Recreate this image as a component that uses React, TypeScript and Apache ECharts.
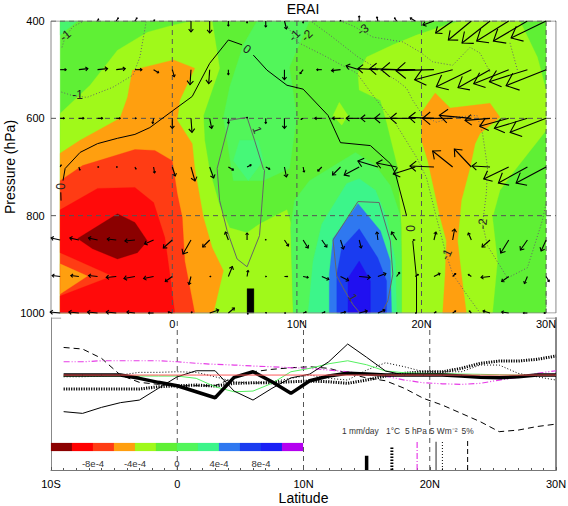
import React, { useEffect, useRef } from "react";
import * as echarts from "echarts";

type Pt = number[];

// ---- filled bands of the vertical section (latitude, pressure) ----
const yellowLeftBand: Pt[] = [[-9,590],[-6.6,532],[-4.4,460],[-2,423],[0.1,408],[1.6,400],[3.2,400],[3.8,497],[2.5,594],[2.6,645],[3,707],[3.8,779],[4.6,825],[6,835],[7,817],[9.2,788],[9.5,815],[9.7,1000],[-9,1000]];
const yellowRightBand: Pt[] = [[14.9,507],[15.6,474],[17.7,449],[19.6,429],[22,408],[23.1,400],[27.9,400],[29.3,474],[30,542],[30,625],[27.3,713],[26.3,748],[25.7,804],[26.1,893],[25.7,1000],[18.4,1000],[18.4,825],[18.1,701],[17.7,660],[17.2,608],[16.7,563],[15,542]];
const yellowDiamondBand: Pt[] = [[13.4,567],[14.1,594],[13.6,614],[12.9,594]];
const cornerBand: Pt[] = [[-9,400],[-7.6,400],[-9,429]];
const green2UpperBand: Pt[] = [[6.8,400],[5.7,449],[4.6,536],[4.1,598],[4.9,728],[6.1,728],[7.3,728],[9.4,703],[10,598],[9.4,495],[11,400]];
const green3UpperBand: Pt[] = [[4.9,687],[6.1,728],[7.3,687],[6.9,645],[5.4,645]];
const green2LowerBand: Pt[] = [[9.7,1000],[9.5,825],[9.8,769],[11,728],[13,697],[14.7,670],[16.3,697],[17.5,738],[18.3,800],[18.4,893],[18.4,1000]];
const springBand: Pt[] = [[10.9,1000],[11.3,893],[12,817],[14,734],[15,724],[16.3,748],[17.2,804],[17.9,893],[18,1000]];
const blue1Band: Pt[] = [[12.6,1000],[12.6,920],[12.9,847],[14.9,775],[16.7,831],[17.5,893],[17.6,1000]];
const blue2Band: Pt[] = [[13.2,1000],[13.2,920],[13.6,866],[15,827],[16.5,887],[17.2,934],[17.2,1000]];
const blue3Band: Pt[] = [[14.1,1000],[14.1,928],[15,893],[15.9,934],[15.9,1000]];
const orangeLeftBand: Pt[] = [[-9,672],[-7.4,645],[-4.2,600],[-3.6,557],[-3.2,501],[0.1,480],[1.8,497],[0.6,563],[0.4,604],[1.6,652],[1.8,703],[2.5,804],[3.2,866],[4.1,913],[3.3,1000],[-9,1000]];
const orangeRedBand: Pt[] = [[-9,728],[-7.2,697],[-3,664],[-1.4,666],[0,687],[0.4,755],[0.8,804],[1,893],[1.8,1000],[-9,1000]];
const redBand: Pt[] = [[-9,788],[-6,744],[-3,742],[-1.5,773],[-0.6,845],[-0.2,920],[0.2,1000],[-9,1000],[-9,965],[-4.8,924],[-9,876]];
const orangeWedgeBand: Pt[] = [[-9,899],[-6.8,924],[-9,961]];
const darkRedBand: Pt[] = [[-7.6,847],[-4.4,796],[-3,814],[-2,852],[-2.8,876],[-4.4,889],[-6.4,868]];
const orangeRightBand: Pt[] = [[20,588],[21.1,548],[22.3,579],[25.5,569],[26.3,598],[24.7,631],[24.3,652],[23.9,701],[23.2,769],[22.9,852],[23.2,920],[23.6,1000],[21.7,1000],[21.9,920],[22,852],[21.5,804],[20.5,687],[20,645]];
const fullBand: Pt[] = [[-9,400],[30,400],[30,1000],[-9,1000]];
const scaleBarBand: Pt[] = [[6,950],[6.55,950],[6.55,1000],[6,1000]];

// ---- contour lines ----
const zeroContourA: Pt[] = [[-8.93,769],[-8.95,752]];
const zeroContourB: Pt[] = [[-8.77,728],[-8.6,703],[-7.4,670],[-6,652],[-4.4,641],[-3,633],[-1.8,619],[0.05,584],[1.6,555],[3,487],[4.5,439],[5.6,449]];
const zeroContourC: Pt[] = [[6.5,470],[7.6,501],[9.2,532],[10.5,540],[12.5,594],[13.5,650],[15.9,656],[17.5,693],[17.9,713],[18.8,800]];
const zeroContourD: Pt[] = [[19.3,852],[19.6,928],[19.6,1000]];
const plusOneA: Pt[] = [[3.6,703],[4.6,604],[6,598],[6.6,645],[7.3,703],[7.4,707],[7,841],[6,905],[5.2,889],[4.4,831],[3.8,769],[3.6,703]];
const plusOneB: Pt[] = [[15.06,1000],[14.5,983],[13.7,948],[13.2,924],[12.9,850],[14.9,771],[16.6,773],[17.5,852],[17.7,920],[17.3,975],[16.8,1000]];
const minusOneA: Pt[] = [[-7.25,402],[-8,412],[-8.6,433],[-8.9,458]];
const minusOneB: Pt[] = [[-8.9,546],[-8.05,553],[-6.85,557],[-4.76,536],[-3.15,511],[-2.6,474],[-2.1,402]];
const minusOneC: Pt[] = [[9.05,404],[9.45,419],[10,443],[12.1,470],[14.8,507],[16.4,563],[18,614],[19.6,680],[20.4,722],[21.2,804],[21.9,872],[22.5,920],[23.6,961],[24.7,1000]];
const minusTwoA: Pt[] = [[11.2,402],[12.65,429],[14.9,474],[18,522],[18.8,538],[19.3,563],[20.1,594],[21.2,608],[22.5,598],[24.45,594],[24.9,631],[25.3,701],[25.2,755],[24.9,817],[25.3,862],[26.9,928],[28.5,907],[29.7,810],[30,775]];
const minusThreeA: Pt[] = [[13.7,402],[14.5,410],[16.1,433],[18.5,443],[19.9,464],[20.9,484],[22.5,491],[23.9,454],[24.7,466],[25.5,505]];
const minusThreeB: Pt[] = [[27.1,445],[27.7,501]];
const minusEdge: Pt[] = [[30,960],[30,1000]];
const contourLabels: [number, number, string, number][] = [
  [-8.9, 740, "0", 90], [6.0, 458, "0", -35], [19.1, 826, "0", -90],
  [-7.6, 553, "-1", 0], [-8.6, 430, "-1", 40], [6.8, 624, "1", -70], [9.8, 430, "-1", 45],
  [14.5, 968, "1", -60], [22.0, 880, "-1", 65], [10.8, 430, "-2", 45], [15.3, 418, "-3", 35], [24.9, 817, "-2", 85],
];

// ---- wind arrows, one list per pressure level, every 1.5 degrees from 9S ----
const windLevels = [400, 500, 600, 700, 850, 925, 1000];
const windLatStart = -9;
const windLatStep = 1.5;
const windU400 = [0,0,1,2,2,1,0,0,0,0,0,0,2,0,0,0,0,-1,-2,-5,-11,-17,-23,-28,-32,-34,-35];
const windV400 = [0,0,2,3,3,1,0,-11,-12,-5,-2,-6,-8,-2,0,0.5,5,4,3,3,-4,-12,-19,-22,-20,-20,-17];
const windU500 = [6,9,10,9,7,5,2,-1,-1,0,0,0,0,-3,-5,-9,-13,-20,-27,-34,-38,-38,-35,-32,-35,-38,-40];
const windV500 = [0,1,1,1,0,-3,-7,-15,-14,-5,0,0,-10,-4,0,-1,4,1,1,0,-1,-10,-17,-18,-14,-12,-16];
const windU600 = [4,5,5,4,1,-1,0,1,2,0,0,0,0,-2,-7,-8,-13,-17,-22,-25,-25,-30,-32,-25,-29,-33,-36];
const windV600 = [0,0,0,0,0,-5,-10,-14,-10,-5,1,-5,-10,-1,0,0,0,0,0,0,1,0,3,-2,-8,-10,-14];
const windU700 = [1,1,1,1,1,1,3,4,4,5,4,4,2,1,-4,-8,-15,-20,-20,-22,-24,-20,-17,-18,-25,-29,-30];
const windV700 = [2,-3,0,0,-2,-6,-9,-14,-11,-3,2,-2,-10,-5,-4,-8,-8,6,4,-7,1,16,18,1,-12,-16,-16];
const windU850 = [-9,-9,-9,-9,-10,-9,-9,-8,-7,-3,0,0,4,5,5,3,2,-1,-5,-2,2,2,-3,-8,-8,-7,-5];
const windV850 = [2,2,2,1,-1,-4,-8,-14,-7,8,7,0.5,-6,-8,-7,-9,-8,8,8,0,8,11,7,-7,-13,-10,-11];
const windU925 = [-8,-8,-9,-10,-11,-10,-7,-2,1,4,1,0.5,3,5,7,8,11,8,3,3,6,3,-3,-9,-7,-3,3];
const windV925 = [1,1,1,-1,-2,-2,-5,-8,0,10,6,0,0,-1,-3,-4,-1,3,4,2,3,3,2,-1,-5,-7,-5];
const windU1000 = [-10,-10,-10,-10,-8,-5,-4,1,9,6,1,0.5,1,3,3,5,8,7,0.5,1,2,3,-2,-7,-7,-4,-2];
const windV1000 = [1,1,1,1,1,0,1,1,3,5,-1,0.5,0,1,1,1,2,3,0,0,1,2,2,2,1,0,0];

// ---- lower panel series, every 1.5 degrees from 9S ----
const thinSolid = [-2.56,-2.68,-2.26,-1.93,-1.75,-0.93,-0.12,0.3,0.3,-1.12,-1.75,-0.93,-0.2,0.07,0.93,2.17,1.24,0.28,0,0,-0.02,-0.07,-0.12,-0.16,-0.07,0,0];
const thickSolid = [0,0,0,0,-0.23,-0.51,-0.75,-1.17,-1.59,-0.16,0.23,-0.47,-1.28,-0.4,-0.07,0.12,0.07,0,0,0,0,-0.07,-0.16,-0.19,-0.12,0,0];
const greenLine = [-0.07,-0.07,-0.07,-0.07,-0.07,-0.07,-0.07,-0.23,-0.82,-1.17,-1.12,-0.58,0.23,0.47,0.79,1,0.72,0.28,0.16,0.12,0.1,0.07,0.05,0.02,0,0,0];
const redLine = [0,0,0,0,0,0,0,0,0,0,0,0,0,0,0,0,0,0,0,0,0,0,0,0,0,0,0];
const magentaLine = [0.93,0.93,1,1,1,1,0.93,0.82,0.75,0.7,0.63,0.58,0.51,0.47,0.35,0.23,0.07,-0.07,-0.35,-0.54,-0.61,-0.65,-0.58,-0.35,-0.16,0.12,0.3];
const dashedLine = [1.93,1.82,1.17,0,-0.51,-0.65,-0.75,-0.75,-0.75,-0.16,0.23,0.4,0.51,0.58,0.47,0.12,-0.2,-0.4,-0.93,-1.63,-2.1,-2.68,-3.26,-3.96,-3.85,-3.6,-3.43];
const thinDotted = [-0.12,-0.12,-0.07,0,0.19,0.19,0.23,0.19,-0.12,-0.47,-0.58,-0.47,-0.23,0,-0.23,-0.35,0.35,0.86,0.58,0.23,0.23,0.23,0.7,0.7,0.12,-0.12,-0.35];
const thickDotted = [-0.98,-0.98,-0.98,-0.98,-0.98,-0.82,-0.75,-0.7,-0.77,-0.58,-0.54,-0.54,-0.47,-0.42,-0.47,-0.58,-0.35,-0.07,0.12,0.23,0.23,0.47,0.82,0.98,0.98,1.1,1.33];
const lowerLatStart = -9;
const lowerLatStep = 1.5;

const scaleLats = [15, 17, 19, 20.5, 21, 23];
const scaleHeights = [1, 1.6, 1.98, 1.98, 1.98, 2.05];
const scaleTexts = ["1 mm/day", "1°C", "5 hPa", "5 Wm⁻²", "5%"];
const scaleTextLats = [14.5, 17.1, 18.9, 21.1, 23];
const scaleTextValue = -3.92;

// ---- colour bar (units of 1e-4) ----
const barLevels = [-12,-10,-8,-6,-4,-2,0,2,4,6,8,10,12];
const barColors = ["#8b0000","#ff0000","#ff3c14","#ff9f0f","#a0f91a","#5ff035","#52f65a","#3cf58a","#2f78f0","#1a3cf0","#1a20f5","#b400f0"];

const TOP_LEFT = -9.735;
const TOP_RIGHT = 30.79;
const latLabel = (v: number) => (v === 0 ? "0" : v < 0 ? `${-v}S` : `${v}N`);
const GUIDE = "#555";

function polySeries(pts: Pt[], color: string) {
  return {
    type: "custom", xAxisIndex: 0, yAxisIndex: 0, silent: true, z: 1,
    data: pts,
    renderItem: (params: any, api: any) => {
      if (params.dataIndex !== 0) return null as any;
      return { type: "polygon", shape: { points: pts.map((p) => api.coord(p)) }, style: { fill: color, stroke: color, lineWidth: 0.3 } };
    },
  };
}

function contour(pts: Pt[], color: string, type: any, width = 1) {
  return { type: "line", xAxisIndex: 0, yAxisIndex: 0, data: pts, showSymbol: false, symbol: "none", silent: true, z: 3,
    lineStyle: { color, type, width }, animation: false };
}

function lower(vals: number[], color: string, type: any, width: number, z = 3) {
  return { type: "line", xAxisIndex: 1, yAxisIndex: 1, showSymbol: false, symbol: "none", silent: true, z,
    data: vals.map((v, i) => [lowerLatStart + i * lowerLatStep, v]),
    lineStyle: { color, type, width } };
}

function guide(xAxisIndex: number, yAxisIndex: number, pts: Pt[]) {
  return { type: "line", xAxisIndex, yAxisIndex, data: pts, showSymbol: false, symbol: "none", silent: true, z: 2,
    lineStyle: { color: GUIDE, type: [5, 4], width: 1 } };
}

function frameLine(pts: Pt[]) {
  return { type: "line", xAxisIndex: 0, yAxisIndex: 0, data: pts, showSymbol: false, symbol: "none", silent: true, z: 2,
    lineStyle: { color: "#888", width: 1 } };
}

const BOTTOM_MIN = -6.64;
const BOTTOM_MAX = 3.99;

function buildOption(): any {
  const windU = [windU400, windU500, windU600, windU700, windU850, windU925, windU1000];
  const windV = [windV400, windV500, windV600, windV700, windV850, windV925, windV1000];
  const windData: number[][] = [];
  windLevels.forEach((p, r) => windU[r].forEach((u, i) => windData.push([windLatStart + i * windLatStep, p, u, windV[r][i]])));

  const scaleStyles: any[] = [
    ["#000", "solid", 3.5], ["#000", [1.5, 1.5], 3], ["#e63ce6", [6, 2, 1, 2], 1.2],
    ["#666", "solid", 1.4], ["#000", [1, 2], 1], ["#000", [5, 3], 1],
  ];

  const series: any[] = [
    polySeries(fullBand, "#5ff035"),
    polySeries(cornerBand, "#48f56e"),
    polySeries(green2UpperBand, "#52f65a"),
    polySeries(green3UpperBand, "#46f878"),
    polySeries(yellowLeftBand, "#a0f91a"),
    polySeries(yellowRightBand, "#a0f91a"),
    polySeries(yellowDiamondBand, "#a0f91a"),
    polySeries(green2LowerBand, "#52f65a"),
    polySeries(springBand, "#3cf58a"),
    polySeries(blue1Band, "#2f78f0"),
    polySeries(blue2Band, "#1a3cf0"),
    polySeries(blue3Band, "#2010f0"),
    polySeries(orangeLeftBand, "#ff9f0f"),
    polySeries(orangeRightBand, "#ff9f0f"),
    polySeries(orangeRedBand, "#ff3c14"),
    polySeries(redBand, "#ff0a0a"),
    polySeries(orangeWedgeBand, "#ff9f0f"),
    polySeries(darkRedBand, "#8b0000"),
    polySeries(scaleBarBand, "#000"),
    frameLine([[TOP_LEFT, 400], [TOP_LEFT, 1000]]),
    frameLine([[TOP_RIGHT, 400], [TOP_RIGHT, 1000]]),
    frameLine([[TOP_LEFT, 400], [TOP_RIGHT, 400]]),
    frameLine([[TOP_LEFT, 1000], [TOP_RIGHT, 1000]]),
    ...[0, 10, 20, 30].map((lat) => guide(0, 0, [[lat, 400], [lat, 1000]])),
    ...[400, 600, 800].map((p) => guide(0, 0, [[TOP_LEFT, p], [TOP_RIGHT, p]])),
    contour(zeroContourA, "#000", "solid"), contour(zeroContourB, "#000", "solid"),
    contour(zeroContourC, "#000", "solid"), contour(zeroContourD, "#000", "solid"),
    contour(plusOneA, "#666", "solid"), contour(plusOneB, "#666", "solid"),
    contour(minusOneA, "#666", [1, 2]), contour(minusOneB, "#666", [1, 2]), contour(minusOneC, "#666", [1, 2]),
    contour(minusTwoA, "#666", [1, 2]), contour(minusThreeA, "#666", [1, 2]), contour(minusThreeB, "#666", [1, 2]),
    contour(minusEdge, "#666", [1, 2]),
    {
      type: "custom", xAxisIndex: 0, yAxisIndex: 0, silent: true, z: 4,
      data: contourLabels.map((l) => [l[0], l[1]]),
      renderItem: (params: any, api: any) => {
        const l = contourLabels[params.dataIndex];
        const c = api.coord([l[0], l[1]]);
        return { type: "text", x: c[0], y: c[1], rotation: (l[3] * Math.PI) / 180,
          style: { text: l[2], fill: l[2] === "1" ? "#333" : "#222", font: "12px 'Liberation Sans'", align: "center", verticalAlign: "middle" } };
      },
    },
    {
      type: "custom", xAxisIndex: 0, yAxisIndex: 0, silent: true, z: 5,
      data: windData,
      renderItem: (_: any, api: any) => {
        const c = api.coord([api.value(0), api.value(1)]);
        const dx = api.value(2) as number, dy = -(api.value(3) as number);
        const len = Math.hypot(dx, dy);
        if (len === 0) return null as any;
        const hx = c[0] + dx, hy = c[1] + dy;
        const a = Math.atan2(dy, dx);
        const b = Math.max(1, 0.33 * len);
        const s = (40 * Math.PI) / 180;
        const style = { stroke: "#000", lineWidth: 1.1, fill: "none" };
        return { type: "group", children: [
          { type: "polyline", shape: { points: [c, [hx, hy]] }, style },
          { type: "polyline", shape: { points: [
            [hx - b * Math.cos(a - s), hy - b * Math.sin(a - s)], [hx, hy], [hx - b * Math.cos(a + s), hy - b * Math.sin(a + s)],
          ] }, style },
        ] };
      },
    },
    // lower panel
    ...[0, 10, 20].map((v) => guide(1, 1, [[v, BOTTOM_MIN], [v, BOTTOM_MAX]])),
    lower(thickDotted, "#000", [1.2, 1.3], 3),
    lower(thinDotted, "#000", [1, 2], 1),
    lower(dashedLine, "#000", [6, 4], 1),
    lower(magentaLine, "#e63ce6", [6, 2, 1, 2, 1, 2], 1.2),
    lower(greenLine, "#55f060", "solid", 1),
    lower(thinSolid, "#000", "solid", 1),
    lower(thickSolid, "#000", "solid", 3.5),
    lower(redLine, "#ff5a5a", "solid", 1, 4),
    ...scaleLats.map((lat, i) => ({
      type: "line", xAxisIndex: 1, yAxisIndex: 1, showSymbol: false, symbol: "none", silent: true, z: 3,
      data: [[lat, BOTTOM_MIN], [lat, BOTTOM_MIN + scaleHeights[i]]],
      lineStyle: { color: scaleStyles[i][0], type: scaleStyles[i][1], width: scaleStyles[i][2] },
    })),
    {
      type: "custom", xAxisIndex: 1, yAxisIndex: 1, silent: true, z: 4,
      data: scaleTextLats.map((lat) => [lat, scaleTextValue]),
      renderItem: (params: any, api: any) => {
        const c = api.coord([api.value(0), api.value(1)]);
        return { type: "text", x: c[0], y: c[1],
          style: { text: scaleTexts[params.dataIndex], fill: "#333", font: "8.4px 'Liberation Sans'", align: "center", verticalAlign: "middle" } };
      },
    },
    // top corners of the lower frame
    ...[[-10, -9.2], [29.2, 30]].map((s) => ({
      type: "line", xAxisIndex: 1, yAxisIndex: 1, showSymbol: false, symbol: "none", silent: true, z: 3,
      data: [[s[0], BOTTOM_MAX], [s[1], BOTTOM_MAX]], lineStyle: { color: "#888", width: 1 },
    })),
    // colour bar
    {
      type: "custom", xAxisIndex: 2, yAxisIndex: 3, silent: true, z: 5,
      data: barColors.map((_, i) => [barLevels[i], barLevels[i + 1]]),
      renderItem: (params: any, api: any) => {
        const a = api.coord([api.value(0), 0]);
        const b = api.coord([api.value(1), 1]);
        const col = barColors[params.dataIndex];
        return { type: "rect", shape: { x: a[0], y: b[1], width: b[0] - a[0], height: a[1] - b[1] }, style: { fill: col, stroke: col, lineWidth: 0.2 } };
      },
    },
  ];

  return {
    animation: false,
    backgroundColor: "#fff",
    textStyle: { fontFamily: "'Liberation Sans', Arial, sans-serif" },
    title: { text: "ERAI", left: 298, textAlign: "center", top: -3, textStyle: { fontSize: 14, fontWeight: "normal", color: "#000", fontFamily: "'Liberation Sans'" } },
    grid: [
      { left: 47.7, top: 21, width: 510.86, height: 292, outerBoundsMode: "none" },
      { left: 51, top: 318, width: 505, height: 152, outerBoundsMode: "none" },
      { left: 51, top: 443, width: 252, height: 8, outerBoundsMode: "none" },
    ],
    xAxis: [
      { type: "value", gridIndex: 0, min: -10, max: 31, interval: 10, splitLine: { show: false }, axisLine: { show: false }, axisTick: { show: false },
        axisLabel: { formatter: (v: number) => (v < 0 || v > 30 ? "" : latLabel(v)), color: "#000", fontSize: 11, margin: 5, showMinLabel: true, showMaxLabel: true } },
      { type: "value", gridIndex: 1, min: -10, max: 30, interval: 10, splitLine: { show: false },
        axisLine: { show: true, onZero: false, lineStyle: { color: "#777", width: 1 } },
        axisTick: { show: true, inside: true, length: 3, lineStyle: { color: "#555" } },
        minorTick: { show: true, splitNumber: 10, length: 2, lineStyle: { color: "#555" } },
        axisLabel: { formatter: latLabel, color: "#000", fontSize: 11, margin: 8, showMinLabel: true, showMaxLabel: true },
        name: "Latitude", nameLocation: "middle", nameGap: 21, nameTextStyle: { fontSize: 14, color: "#000" } },
      { type: "value", gridIndex: 2, min: -12, max: 12, interval: 4, splitLine: { show: false }, axisLine: { show: false }, axisTick: { show: false },
        axisLabel: { formatter: (v: number) => (Math.abs(v) === 12 ? "" : v === 0 ? "0" : `${v}e-4`), color: "#333", fontSize: 9.5, margin: 7 } },
    ],
    yAxis: [
      { type: "value", gridIndex: 0, inverse: true, min: 400, max: 1000, interval: 200, splitLine: { show: false }, axisLine: { show: false }, axisTick: { show: false },
        axisLabel: { color: "#000", fontSize: 11, margin: 3, formatter: (v: number) => String(v) },
        name: "Pressure (hPa)", nameLocation: "middle", nameGap: 31, nameRotate: 90, nameMoveOverlap: false, nameTextStyle: { fontSize: 14, color: "#000" } },
      { type: "value", gridIndex: 1, min: BOTTOM_MIN, max: BOTTOM_MAX, splitLine: { show: false }, axisLabel: { show: false }, axisTick: { show: false },
        axisLine: { show: true, onZero: false, lineStyle: { color: "#888", width: 1 } } },
      { type: "value", gridIndex: 1, position: "right", min: BOTTOM_MIN, max: BOTTOM_MAX, splitLine: { show: false }, axisLabel: { show: false }, axisTick: { show: false },
        axisLine: { show: true, onZero: false, lineStyle: { color: "#888", width: 2 } } },
      { type: "value", gridIndex: 2, min: 0, max: 1, show: false },
    ],
    series,
  };
}

export default function App() {
  const ref = useRef<HTMLDivElement>(null);
  useEffect(() => {
    document.body.style.margin = "0";
    const chart = echarts.init(ref.current!, undefined, { renderer: "svg" });
    chart.setOption(buildOption());
    return () => chart.dispose();
  }, []);
  return <div ref={ref} style={{ width: 568, height: 506 }} />;
}
